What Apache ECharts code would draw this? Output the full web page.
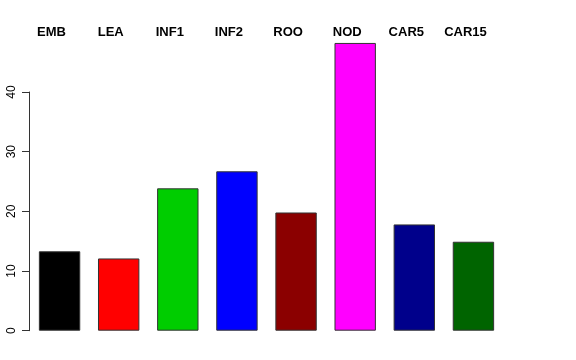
<!DOCTYPE html>
<html>
<head>
<meta charset="utf-8">
<script src="https://cdn.jsdelivr.net/npm/echarts@6/dist/echarts.min.js"></script>
<style>html,body{margin:0;padding:0;background:#fff}#c{width:576px;height:360px}</style>
</head>
<body>
<div id="c"></div>
<script>
var categories = ['EMB', 'LEA', 'INF1', 'INF2', 'ROO', 'NOD', 'CAR5', 'CAR15'];
var values = [13.3, 12.1, 23.85, 26.7, 19.8, 48.2, 17.8, 14.9];
var barColors = ['#000000', '#FF0000', '#00CD00', '#0000FF', '#8B0000', '#FF00FF', '#00008B', '#006400'];
var yTicks = [0, 10, 20, 30, 40];

var chart = echarts.init(document.getElementById('c'), null, {renderer: 'canvas'});
var font = '"Liberation Sans", Arial, Helvetica, sans-serif';
chart.setOption({
  animation: false,
  backgroundColor: '#ffffff',
  grid: [
    {left: 30, right: 73, top: 32.2, bottom: 29.3},
    {left: 29, right: 73, top: 92, bottom: 29.3}
  ],
  xAxis: [
    {
      type: 'category', gridIndex: 0, data: categories, position: 'top',
      axisLine: {show: false}, axisTick: {show: false}, splitLine: {show: false},
      axisLabel: {
        margin: 0, verticalAlign: 'middle', interval: 0,
        formatter: function (v) { return '{a|' + v + '}'; },
        rich: {a: {fontFamily: font, fontSize: 13, fontWeight: 'bold', color: '#000', padding: [0, 16, 0, 0]}}
      }
    },
    {type: 'value', gridIndex: 1, show: false, min: 0, max: 1}
  ],
  yAxis: [
    {type: 'value', gridIndex: 0, min: 0, max: 50, show: false},
    {
      type: 'value', gridIndex: 1, min: 0, max: 40, interval: 10,
      axisLine: {show: true, lineStyle: {color: '#333', width: 1}},
      axisTick: {show: true, length: 7, lineStyle: {color: '#333', width: 1}},
      splitLine: {show: false},
      axisLabel: {
        rotate: 90, margin: 11, fontFamily: font, fontSize: 12, color: '#000',
        formatter: function (v) { return yTicks.indexOf(v) >= 0 ? String(v) : ''; }
      }
    }
  ],
  series: [{
    type: 'bar', xAxisIndex: 0, yAxisIndex: 0,
    barCategoryGap: '30%',
    data: values.map(function (v, i) {
      return {value: v, itemStyle: {color: barColors[i]}};
    }),
    itemStyle: {borderColor: '#333', borderWidth: 1}
  }]
});
</script>
</body>
</html>
